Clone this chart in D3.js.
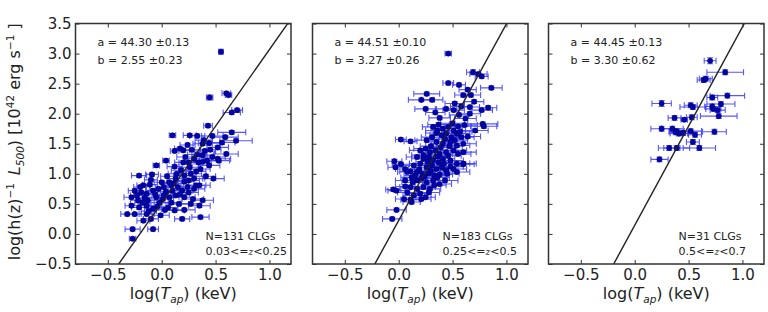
<!DOCTYPE html>
<html lang="en">
<head>
<meta charset="UTF-8">
<title>L500 - Tap relation</title>
<script src="https://d3js.org/d3.v7.min.js"></script>
<style>
  body { margin: 0; background: #fff; }
  svg { font-family: "DejaVu Sans", sans-serif; display: block; }
  .tick text { fill: #222; }
</style>
</head>
<body>
<svg id="chart" width="768" height="312"></svg>
<script>
// [log T, log L, xerr, yerr]
const lowZ = [
  [0.55,3.03,0.02,0.04],[0.445,2.27,0.03,0.04],[0.60,2.34,0.04,0.03],[0.62,2.31,0.03,0.03],
  [0.65,2.02,0.08,0.03],[0.70,2.06,0.05,0.03],[0.43,1.80,0.04,0.03],[0.65,1.69,0.13,0.03],
  [0.69,1.55,0.15,0.03],[0.10,1.64,0.03,0.03],[0.26,1.64,0.06,0.03],[0.33,1.63,0.07,0.03],
  [0.39,1.56,0.08,0.03],[0.47,1.63,0.10,0.03],[0.59,1.61,0.12,0.03],[0.38,1.50,0.09,0.03],
  [0.44,1.51,0.10,0.03],[0.52,1.44,0.10,0.03],[0.17,1.42,0.05,0.03],[0.20,1.39,0.06,0.03],
  [0.12,1.38,0.04,0.03],[0.28,1.40,0.08,0.03],[0.33,1.32,0.09,0.03],[0.38,1.31,0.10,0.03],
  [0.60,1.33,0.11,0.03],[0.47,1.28,0.12,0.03],[0.04,1.22,0.03,0.03],[-0.05,1.14,0.03,0.03],
  [0.20,1.19,0.08,0.03],[0.25,1.19,0.09,0.03],[0.34,1.19,0.10,0.03],[0.38,1.20,0.08,0.03],
  [0.52,1.25,0.12,0.03],[0.44,1.14,0.10,0.03],[-0.21,0.97,0.07,0.03],[-0.09,0.99,0.06,0.03],
  [0.18,1.06,0.09,0.03],[0.26,1.11,0.10,0.03],[0.32,1.04,0.09,0.03],[0.21,0.97,0.10,0.03],
  [0.13,0.92,0.08,0.03],[0.07,0.86,0.08,0.03],[0.41,0.96,0.09,0.03],[0.48,0.92,0.10,0.03],
  [0.21,0.87,0.09,0.03],[0.25,0.89,0.10,0.03],[0.32,0.81,0.09,0.03],[-0.17,0.81,0.06,0.03],
  [-0.11,0.82,0.07,0.03],[-0.25,0.72,0.06,0.03],[-0.19,0.69,0.07,0.03],[-0.14,0.67,0.08,0.03],
  [-0.08,0.72,0.07,0.03],[-0.03,0.75,0.08,0.03],[0.02,0.78,0.08,0.03],[0.09,0.81,0.09,0.03],
  [0.15,0.78,0.09,0.03],[0.19,0.72,0.10,0.03],[0.25,0.69,0.09,0.03],[0.30,0.75,0.10,0.03],
  [0.35,0.81,0.10,0.03],[-0.28,0.61,0.07,0.03],[-0.22,0.56,0.07,0.03],[-0.13,0.56,0.08,0.03],
  [-0.05,0.61,0.08,0.03],[0.01,0.58,0.08,0.03],[0.07,0.61,0.09,0.03],[0.13,0.64,0.09,0.03],
  [0.21,0.61,0.10,0.03],[0.29,0.58,0.10,0.03],[0.38,0.56,0.10,0.03],[-0.28,0.47,0.06,0.03],
  [-0.21,0.44,0.07,0.03],[-0.14,0.47,0.07,0.03],[-0.08,0.42,0.08,0.03],[0.06,0.44,0.09,0.03],
  [0.12,0.39,0.09,0.03],[0.21,0.40,0.10,0.03],[0.35,0.47,0.10,0.03],[-0.32,0.33,0.06,0.03],
  [-0.25,0.33,0.06,0.03],[-0.14,0.33,0.07,0.03],[-0.01,0.31,0.08,0.03],[0.19,0.25,0.07,0.03],
  [-0.17,0.22,0.06,0.03],[-0.10,0.25,0.07,0.03],[-0.27,0.08,0.07,0.03],[-0.08,0.08,0.05,0.03],
  [-0.27,-0.08,0.03,0.03],[0.22,1.28,0.08,0.03],[0.42,1.22,0.10,0.03],[0.53,1.22,0.10,0.03],
  [0.36,0.28,0.08,0.03],[0.16,0.50,0.09,0.03],[-0.20,0.78,0.06,0.03],[-0.06,0.66,0.07,0.03],
  [0.04,0.70,0.08,0.03],[0.10,0.72,0.08,0.03],[-0.16,0.60,0.07,0.03],[-0.02,0.52,0.08,0.03],
  [0.09,0.52,0.09,0.03],[-0.23,0.64,0.06,0.03],[0.00,0.86,0.07,0.03],[0.14,1.00,0.08,0.03],
  [0.27,1.00,0.10,0.03],[0.11,0.84,0.09,0.03],[-0.12,0.38,0.07,0.03],[0.03,0.40,0.08,0.03],
  [0.27,0.50,0.10,0.03],[0.30,1.25,0.09,0.03],[0.40,1.38,0.10,0.03],[0.56,1.52,0.12,0.03],
  [0.30,0.92,0.10,0.03],[0.17,0.66,0.09,0.03],[-0.04,0.46,0.08,0.03],[-0.18,0.52,0.07,0.03],
  [0.05,0.96,0.06,0.03],[0.36,1.08,0.09,0.03],[0.45,1.40,0.10,0.03],[0.24,0.78,0.10,0.03],
  [-0.10,0.90,0.06,0.03],[0.12,1.12,0.07,0.03],[0.02,0.64,0.08,0.03],[0.24,1.48,0.07,0.03]
];

const midZ = [
  [0.46,3.00,0.03,0.03],[0.69,2.69,0.06,0.04],[0.74,2.66,0.08,0.03],[0.77,2.62,0.06,0.03],
  [0.46,2.51,0.05,0.03],[0.56,2.48,0.06,0.03],[0.64,2.40,0.08,0.03],[0.86,2.43,0.10,0.03],
  [0.26,2.33,0.12,0.03],[0.21,2.23,0.12,0.03],[0.31,2.23,0.10,0.03],[0.60,2.31,0.08,0.03],
  [0.67,2.31,0.09,0.03],[0.25,2.08,0.10,0.03],[0.34,2.02,0.09,0.03],[0.44,2.08,0.10,0.03],
  [0.51,2.06,0.10,0.03],[0.58,2.12,0.10,0.03],[0.66,2.11,0.09,0.03],[0.77,2.06,0.10,0.03],
  [0.83,2.10,0.08,0.03],[0.56,1.98,0.09,0.03],[0.66,2.00,0.10,0.03],[0.78,1.83,0.14,0.03],
  [0.79,1.79,0.12,0.03],[0.71,1.72,0.12,0.03],[0.61,1.81,0.12,0.03],[0.32,1.78,0.10,0.03],
  [0.37,1.82,0.10,0.03],[0.41,1.75,0.11,0.03],[0.46,1.78,0.12,0.03],[0.51,1.72,0.11,0.03],
  [0.55,1.79,0.12,0.03],[0.35,1.68,0.10,0.03],[0.40,1.64,0.11,0.03],[0.44,1.67,0.12,0.03],
  [0.49,1.61,0.11,0.03],[0.54,1.67,0.12,0.03],[0.58,1.61,0.12,0.03],[0.31,1.61,0.10,0.03],
  [0.26,1.56,0.11,0.03],[0.35,1.53,0.10,0.03],[0.41,1.50,0.11,0.03],[0.48,1.53,0.12,0.03],
  [0.54,1.47,0.12,0.03],[0.60,1.50,0.12,0.03],[0.02,1.57,0.05,0.03],[0.11,1.54,0.06,0.03],
  [0.20,1.39,0.10,0.03],[0.25,1.42,0.11,0.03],[0.29,1.36,0.10,0.03],[0.34,1.39,0.11,0.03],
  [0.38,1.33,0.12,0.03],[0.44,1.36,0.11,0.03],[0.51,1.39,0.12,0.03],[0.55,1.33,0.12,0.03],
  [0.17,1.28,0.10,0.03],[0.23,1.25,0.11,0.03],[0.28,1.28,0.10,0.03],[0.32,1.23,0.11,0.03],
  [0.37,1.19,0.12,0.03],[0.41,1.25,0.11,0.03],[0.48,1.22,0.12,0.03],[0.54,1.17,0.12,0.03],
  [0.60,1.17,0.12,0.03],[0.60,1.36,0.12,0.03],[0.14,1.14,0.10,0.03],[0.20,1.17,0.10,0.03],
  [0.26,1.11,0.11,0.03],[0.31,1.14,0.10,0.03],[0.35,1.08,0.11,0.03],[0.40,1.11,0.12,0.03],
  [0.44,1.06,0.11,0.03],[0.51,1.08,0.12,0.03],[0.11,1.04,0.10,0.03],[0.17,1.03,0.10,0.03],
  [0.22,1.00,0.11,0.03],[0.28,1.01,0.10,0.03],[0.33,0.97,0.11,0.03],[0.38,0.99,0.12,0.03],
  [0.45,1.00,0.11,0.03],[0.54,1.03,0.12,0.03],[0.60,1.16,0.10,0.03],[-0.04,1.21,0.07,0.03],
  [-0.03,1.11,0.07,0.03],[0.02,1.16,0.08,0.03],[0.06,1.08,0.09,0.03],[0.08,1.03,0.09,0.03],
  [0.12,0.94,0.10,0.03],[0.17,0.89,0.10,0.03],[0.21,0.92,0.10,0.03],[0.26,0.86,0.11,0.03],
  [0.32,0.89,0.10,0.03],[0.38,0.83,0.11,0.03],[0.43,0.89,0.12,0.03],[0.06,0.89,0.09,0.03],
  [0.06,0.79,0.09,0.03],[0.11,0.78,0.10,0.03],[0.17,0.75,0.10,0.03],[0.23,0.78,0.11,0.03],
  [0.29,0.75,0.10,0.03],[0.33,0.81,0.11,0.03],[-0.05,0.74,0.07,0.03],[-0.02,0.72,0.08,0.03],
  [0.08,0.69,0.09,0.03],[0.14,0.64,0.10,0.03],[0.20,0.67,0.10,0.03],[0.25,0.61,0.09,0.03],
  [0.11,0.57,0.09,0.03],[0.05,0.58,0.08,0.03],[0.12,0.53,0.08,0.03],[-0.02,0.40,0.09,0.03],
  [-0.06,0.25,0.09,0.03],[0.36,1.72,0.11,0.03],[0.43,1.58,0.12,0.03],[0.39,1.44,0.11,0.03],
  [0.47,1.46,0.12,0.03],[0.30,1.46,0.10,0.03],[0.23,1.31,0.11,0.03],[0.46,1.30,0.12,0.03],
  [0.36,1.29,0.11,0.03],[0.27,1.20,0.11,0.03],[0.42,1.17,0.12,0.03],[0.30,1.05,0.11,0.03],
  [0.15,0.97,0.10,0.03],[0.24,0.95,0.11,0.03],[0.36,0.94,0.11,0.03],[0.48,1.12,0.12,0.03],
  [0.19,1.08,0.10,0.03],[0.13,0.86,0.10,0.03],[0.28,0.69,0.10,0.03],[0.21,0.58,0.09,0.03],
  [0.52,1.56,0.12,0.03],[0.57,1.70,0.11,0.03],[0.50,1.84,0.11,0.03],[0.62,1.92,0.10,0.03],
  [0.70,2.20,0.09,0.03],[0.52,2.17,0.09,0.03],[0.38,1.93,0.10,0.03],[0.64,1.62,0.12,0.03]
];

const highZ = [
  [0.70,2.88,0.055,0.05],[0.84,2.69,0.17,0.04],[0.64,2.56,0.06,0.04],[0.66,2.58,0.06,0.04],
  [0.86,2.30,0.16,0.04],[0.72,2.27,0.05,0.04],[0.25,2.17,0.09,0.05],[0.52,2.14,0.06,0.04],
  [0.54,2.11,0.12,0.04],[0.80,2.16,0.13,0.04],[0.72,2.12,0.07,0.04],[0.73,2.08,0.07,0.04],
  [0.77,2.06,0.07,0.04],[0.78,1.96,0.17,0.04],[0.37,1.93,0.06,0.04],[0.46,1.90,0.03,0.03],
  [0.53,1.94,0.05,0.04],[0.25,1.75,0.10,0.04],[0.35,1.75,0.10,0.04],[0.39,1.71,0.07,0.04],
  [0.41,1.67,0.08,0.04],[0.45,1.68,0.05,0.04],[0.52,1.71,0.10,0.04],[0.56,1.65,0.06,0.04],
  [0.74,1.70,0.11,0.04],[0.54,1.53,0.06,0.04],[0.32,1.43,0.10,0.04],[0.39,1.43,0.12,0.04],
  [0.60,1.43,0.15,0.04],[0.23,1.24,0.08,0.04],[0.38,1.69,0.06,0.04]
];

const samples = [lowZ, midZ, highZ];
const fitA = [44.30, 44.51, 44.45];
const fitAErr = [0.13, 0.10, 0.13];
const fitB = [2.55, 3.27, 3.30];
const fitBErr = [0.23, 0.26, 0.62];
const pivot = Math.log10(5);      // fits normalised at 5 keV, L in 1e42
const counts = ["N=131 CLGs", "N=183 CLGs", "N=31 CLGs"];
const zLo = ["0.03", "0.25", "0.5"];
const zHi = ["0.25", "0.5", "0.7"];
const xTicks = [-0.5, 0, 0.5, 1.0];
const yTicks = [-0.5, 0, 0.5, 1.0, 1.5, 2.0, 2.5, 3.0, 3.5];

const svg = d3.select("#chart");
const plotTop = 23.5, plotBottom = 264, pw = 215.5;
const lefts = [75.5, 312.5, 548.5];
const fmt = d => d3.format(".1f")(d).replace("-", "\u2212");

const y = d3.scaleLinear().domain([-0.5, 3.5]).range([plotBottom, plotTop]);

svg.append("defs").selectAll("clipPath")
  .data(lefts).join("clipPath")
  .attr("id", (d, i) => "clip" + i)
  .append("rect").attr("x", d => d).attr("y", plotTop).attr("width", pw).attr("height", plotBottom - plotTop);

samples.forEach((pts, i) => {
  const x = d3.scaleLinear().domain([-0.8, 1.2]).range([lefts[i], lefts[i] + pw]);
  const g = svg.append("g");

  // error bars
  const eb = g.append("g").attr("stroke", "#3a3aff").attr("stroke-opacity", 0.85).attr("stroke-width", 1.1).attr("fill", "none");
  pts.forEach(p => {
    const cx = x(p[0]), cy = y(p[1]);
    const x0 = x(p[0] - p[2]), x1 = x(p[0] + p[2]);
    const y0 = y(p[1] - p[3]), y1 = y(p[1] + p[3]);
    eb.append("path").attr("d",
      `M${x0},${cy}H${x1}M${x0},${cy - 3}V${cy + 3}M${x1},${cy - 3}V${cy + 3}` +
      `M${cx},${y0}V${y1}M${cx - 3},${y0}H${cx + 3}M${cx - 3},${y1}H${cx + 3}`);
  });

  g.append("g").selectAll("circle")
    .data(pts).join("circle")
    .attr("cx", d => x(d[0])).attr("cy", d => y(d[1]))
    .attr("r", 2.6)
    .attr("fill", "#0000c0").attr("stroke", "#000030").attr("stroke-width", 0.6);

  // best fit line
  const line = d3.line().x(d => x(d)).y(d => y(fitA[i] - 42 + fitB[i] * (d - pivot)));
  g.append("path").datum([-0.8, 1.2])
    .attr("clip-path", `url(#clip${i})`)
    .attr("d", line).attr("stroke", "#222").attr("stroke-width", 1.4).attr("fill", "none");

  // axes with inward ticks on all sides
  const ax = (gen, tr) => {
    const a = svg.append("g").attr("transform", tr).call(gen).attr("font-size", 15).attr("font-family", "DejaVu Sans");
    a.select(".domain").remove();
    a.selectAll(".tick line").attr("stroke", "#333");
    return a;
  };
  ax(d3.axisBottom(x).tickValues(xTicks).tickSize(-4).tickPadding(5).tickFormat(fmt), `translate(0,${plotBottom})`);
  ax(d3.axisTop(x).tickValues(xTicks).tickSize(-4).tickFormat(""), `translate(0,${plotTop})`);
  ax(d3.axisLeft(y).tickValues(yTicks).tickSize(-4).tickPadding(4).tickFormat(i === 0 ? fmt : ""), `translate(${lefts[i]},0)`);
  ax(d3.axisRight(y).tickValues(yTicks).tickSize(-4).tickFormat(""), `translate(${lefts[i] + pw},0)`);

  svg.append("rect").attr("x", lefts[i]).attr("y", plotTop).attr("width", pw).attr("height", plotBottom - plotTop)
    .attr("fill", "none").attr("stroke", "#333").attr("stroke-width", 1.5);

  // fit parameters
  const t = svg.append("g").attr("font-size", 11).attr("fill", "#222");
  t.append("text").attr("x", lefts[i] + 22).attr("y", 46)
    .text(`a = ${fitA[i].toFixed(2)} \u00b1${fitAErr[i].toFixed(2)}`);
  t.append("text").attr("x", lefts[i] + 22).attr("y", 64)
    .text(`b = ${fitB[i].toFixed(2)} \u00b1${fitBErr[i].toFixed(2)}`);
  t.append("text").attr("x", lefts[i] + 130).attr("y", 240).text(counts[i]);
  const zt = t.append("text").attr("x", lefts[i] + 130).attr("y", 255);
  zt.append("tspan").text(zLo[i] + "<=");
  zt.append("tspan").attr("font-style", "italic").attr("font-size", 9).attr("font-family", "DejaVu Serif").text("z");
  zt.append("tspan").text("<" + zHi[i]);

  // x label
  const xl = svg.append("text").attr("x", lefts[i] + pw / 2).attr("y", 299)
    .attr("text-anchor", "middle").attr("font-size", 16).attr("fill", "#222");
  xl.append("tspan").text("log(");
  xl.append("tspan").attr("font-style", "italic").text("T");
  xl.append("tspan").attr("font-style", "italic").attr("font-size", 10.5).attr("dy", 4).text("ap");
  xl.append("tspan").attr("dy", -4).text(") (keV)");
});

// y label
const yl = svg.append("text")
  .attr("transform", `translate(20,${(plotTop + plotBottom) / 2 - 2}) rotate(-90)`)
  .attr("text-anchor", "middle").attr("font-size", 16).attr("fill", "#222");
yl.append("tspan").text("log(h(z)");
yl.append("tspan").attr("font-size", 10.5).attr("dy", -6).text("\u22121");
yl.append("tspan").attr("dy", 6).text("\u2002");
yl.append("tspan").attr("font-style", "italic").text("L");
yl.append("tspan").attr("font-style", "italic").attr("font-size", 10.5).attr("dy", 4).text("500");
yl.append("tspan").attr("dy", -4).text(") [10");
yl.append("tspan").attr("font-size", 10.5).attr("dy", -6).text("42");
yl.append("tspan").attr("dy", 6).text(" erg s");
yl.append("tspan").attr("font-size", 10.5).attr("dy", -6).text("\u22121");
yl.append("tspan").attr("dy", 6).text(" ]");
</script>
</body>
</html>
